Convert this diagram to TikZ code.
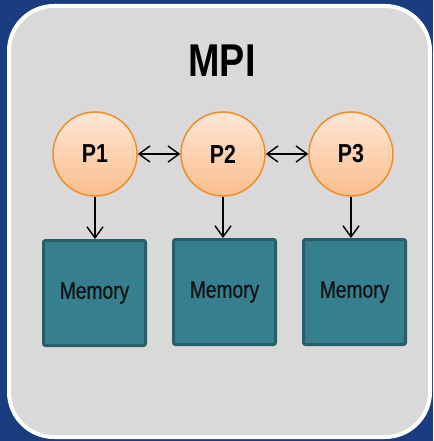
\documentclass[tikz,border=0pt]{standalone}
\usepackage{fontspec}
\setmainfont{Liberation Sans}
\newfontfamily\narrowfont[FakeStretch=0.82]{Liberation Sans}
\newfontfamily\memfont[FakeStretch=0.8,FakeBold=0.8]{Liberation Sans}
\usetikzlibrary{positioning}
\usetikzlibrary{arrows.meta}
\definecolor{bgblue}{HTML}{1A3D80}
\definecolor{panelgray}{HTML}{D9D9D9}
\definecolor{peachtop}{HTML}{FDE6D6}
\definecolor{peachbot}{HTML}{FBBE8C}
\definecolor{procedge}{HTML}{EE8E2C}
\definecolor{memfill}{HTML}{357F8E}
\definecolor{memedge}{HTML}{285E67}

\begin{document}
\begin{tikzpicture}[x=1pt,y=-1pt,
  proc/.style={circle,draw=procedge,line width=1.5pt,top color=peachtop,bottom color=peachbot,
    minimum size=84pt,inner sep=0pt,font=\narrowfont\bfseries\fontsize{26}{28}\selectfont},
  mem/.style={rectangle,draw=memedge,fill=memfill,line width=3pt,rounded corners=2pt,
    minimum width=102pt,minimum height=105pt,inner sep=0pt,text=black!92,
    font=\memfont\fontsize{24}{26}\selectfont},
  link/.style={line width=1.4pt,black,-{Straight Barb[length=11pt,width=16pt,line width=1.4pt]}},
  dlink/.style={line width=1.4pt,black,{Straight Barb[length=11pt,width=16pt,line width=1.4pt]}-{Straight Barb[length=11pt,width=16pt,line width=1.4pt]}}]
 \useasboundingbox (0,0) rectangle (433,441);
 \fill[bgblue] (0,0) rectangle (433,441);
 \draw[white,line width=4pt,fill=panelgray,rounded corners=45pt] (9,6) rectangle (430,437);
 \node[font=\narrowfont\bfseries\fontsize{46}{48}\selectfont] (title) at (222,61) {MPI};
 \node[proc] (p1) at (95,154) {P1};
 \node[proc] (p2) at (223,154) {P2};
 \node[proc] (p3) at (351,154) {P3};
 \node[mem] (m1) at (94.5,293) {Memory};
 \node[mem] (m2) at (224.5,292) {Memory};
 \node[mem] (m3) at (354.5,292) {Memory};
 \draw[dlink] (p1) -- (p2);
 \draw[dlink] (p2) -- (p3);
 \draw[link] (p1.south) -- (p1.south |- m1.north);
 \draw[link] (p2.south) -- (p2.south |- m2.north);
 \draw[link] (p3.south) -- (p3.south |- m3.north);
\end{tikzpicture}
\end{document}
